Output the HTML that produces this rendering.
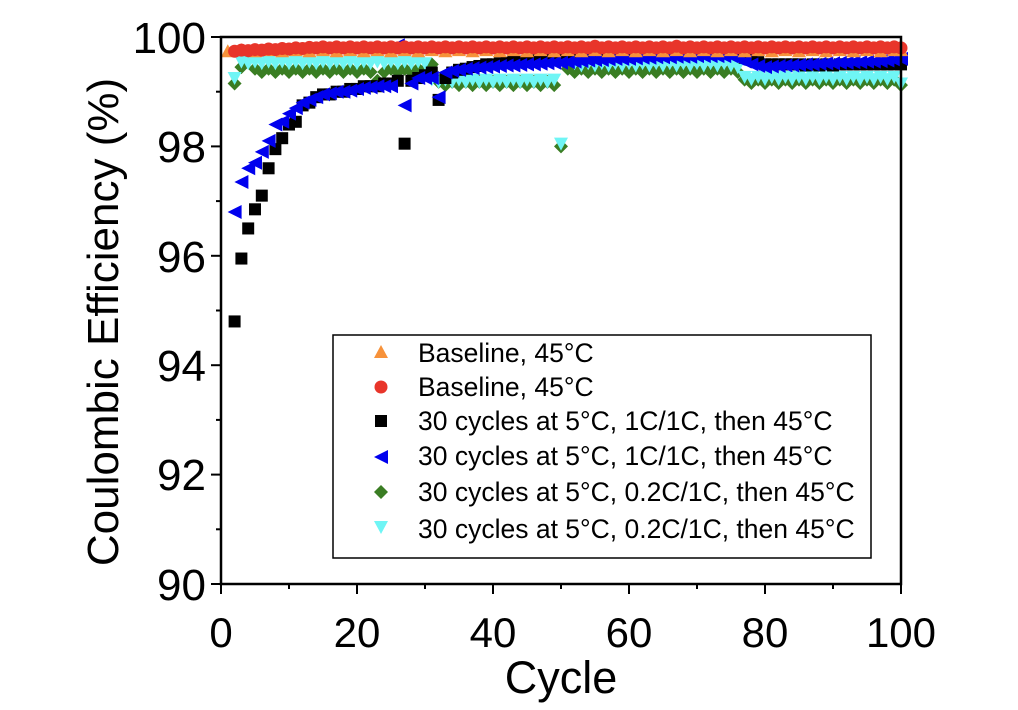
<!DOCTYPE html>
<html><head><meta charset="utf-8"><style>body{margin:0;background:#fff}svg{display:block}</style></head>
<body>
<svg width="1018" height="710" xmlns="http://www.w3.org/2000/svg" font-family="Liberation Sans, Arial, sans-serif">
<defs>
<marker id="mu" markerUnits="userSpaceOnUse" markerWidth="10" markerHeight="10" overflow="visible"><polygon points="0,0.128 -1.03,-0.11 1.03,-0.11" fill="#f7923a"/></marker>
<marker id="mc" markerUnits="userSpaceOnUse" markerWidth="10" markerHeight="10" overflow="visible"><ellipse cx="0" cy="0" rx="0.956" ry="0.119" fill="#e8352a"/></marker>
<marker id="ms" markerUnits="userSpaceOnUse" markerWidth="10" markerHeight="10" overflow="visible"><rect x="-0.88" y="-0.11" width="1.76" height="0.22" fill="#000"/></marker>
<marker id="ml" markerUnits="userSpaceOnUse" markerWidth="10" markerHeight="10" overflow="visible"><polygon points="-1.03,0 1.03,0.128 1.03,-0.128" fill="#0000ee"/></marker>
<marker id="md" markerUnits="userSpaceOnUse" markerWidth="10" markerHeight="10" overflow="visible"><polygon points="0,0.128 1.03,0 0,-0.128 -1.03,0" fill="#3a7d23"/></marker>
<marker id="mv" markerUnits="userSpaceOnUse" markerWidth="10" markerHeight="10" overflow="visible"><polygon points="0,-0.128 -1.03,0.11 1.03,0.11" fill="#6ff5f5"/></marker>
</defs>
<rect width="1018" height="710" fill="#fff"/>
<g transform="translate(221,5507) scale(6.8,-54.7)" fill="none" stroke="none">
<polyline marker-start="url(#md)" marker-mid="url(#md)" marker-end="url(#md)" points="2,99.15 3,99.45 4,99.65 5,99.42 6,99.36 7,99.42 8,99.36 9,99.42 10,99.36 11,99.42 12,99.36 13,99.42 14,99.36 15,99.42 16,99.36 17,99.42 18,99.36 19,99.42 20,99.36 21,99.42 22,99.36 23,99.2 24,99.36 25,99.42 26,99.36 27,99.42 28,99.36 29,99.42 30,99.4 31,99.5 32,99.18 33,99.12 34,99.18 35,99.12 36,99.18 37,99.12 38,99.18 39,99.12 40,99.18 41,99.12 42,99.18 43,99.12 44,99.18 45,99.12 46,99.18 47,99.12 48,99.18 49,99.12 50,98.0 51,99.42 52,99.36 53,99.42 54,99.36 55,99.42 56,99.36 57,99.42 58,99.36 59,99.42 60,99.36 61,99.42 62,99.36 63,99.42 64,99.36 65,99.42 66,99.36 67,99.42 68,99.36 69,99.42 70,99.36 71,99.42 72,99.36 73,99.42 74,99.36 75,99.42 76,99.36 77,99.22 78,99.16 79,99.22 80,99.16 81,99.22 82,99.16 83,99.22 84,99.16 85,99.22 86,99.16 87,99.22 88,99.16 89,99.22 90,99.16 91,99.22 92,99.16 93,99.22 94,99.16 95,99.22 96,99.16 97,99.22 98,99.16 99,99.22 100,99.12"/>
<polyline marker-start="url(#mv)" marker-mid="url(#mv)" marker-end="url(#mv)" points="2,99.25 3,99.55 4,99.52 5,99.55 6,99.52 7,99.55 8,99.52 9,99.55 10,99.52 11,99.55 12,99.52 13,99.55 14,99.52 15,99.55 16,99.52 17,99.55 18,99.52 19,99.55 20,99.52 21,99.55 22,99.52 23,99.55 24,99.52 25,99.55 26,99.52 27,99.55 28,99.52 29,99.55 30,99.52 31,99.22 32,99.18 33,99.22 34,99.18 35,99.22 36,99.18 37,99.22 38,99.18 39,99.22 40,99.18 41,99.22 42,99.18 43,99.22 44,99.18 45,99.22 46,99.18 47,99.22 48,99.18 49,99.22 50,98.05 51,99.6 52,99.52 53,99.48 54,99.52 55,99.48 56,99.52 57,99.48 58,99.52 59,99.48 60,99.52 61,99.48 62,99.52 63,99.48 64,99.52 65,99.48 66,99.52 67,99.48 68,99.52 69,99.48 70,99.52 71,99.48 72,99.52 73,99.48 74,99.52 75,99.48 76,99.45 77,99.27 78,99.23 79,99.27 80,99.23 81,99.27 82,99.23 83,99.27 84,99.23 85,99.27 86,99.23 87,99.27 88,99.23 89,99.27 90,99.23 91,99.27 92,99.23 93,99.27 94,99.23 95,99.27 96,99.23 97,99.27 98,99.23 99,99.27 100,99.15"/>
<polyline marker-start="url(#ms)" marker-mid="url(#ms)" marker-end="url(#ms)" points="2,94.8 3,95.95 4,96.5 5,96.85 6,97.1 7,97.6 8,97.95 9,98.15 10,98.4 11,98.45 12,98.75 13,98.8 14,98.9 15,98.95 16,98.95 17,99.0 18,99.0 19,99.05 20,99.05 21,99.1 22,99.1 23,99.1 24,99.15 25,99.15 26,99.2 27,98.05 28,99.2 29,99.25 30,99.3 31,99.35 32,98.85 33,99.25 34,99.35 35,99.4 36,99.42 37,99.45 38,99.47 39,99.5 40,99.5 41,99.52 42,99.53 43,99.55 44,99.55 45,99.56 46,99.57 47,99.58 48,99.58 49,99.6 50,99.6 51,99.62 52,99.63 53,99.64 54,99.65 55,99.66 56,99.67 57,99.68 58,99.69 59,99.7 60,99.7 61,99.7 62,99.71 63,99.71 64,99.71 65,99.72 66,99.72 67,99.72 68,99.72 69,99.72 70,99.72 71,99.72 72,99.72 73,99.72 74,99.72 75,99.72 76,99.7 77,99.62 78,99.58 79,99.54 80,99.5 81,99.5 82,99.5 83,99.5 84,99.5 85,99.5 86,99.48 87,99.5 88,99.48 89,99.5 90,99.48 91,99.5 92,99.5 93,99.5 94,99.5 95,99.5 96,99.5 97,99.5 98,99.5 99,99.5 100,99.5"/>
<polyline marker-start="url(#ml)" marker-mid="url(#ml)" marker-end="url(#ml)" points="2,96.8 3,97.35 4,97.6 5,97.7 6,97.9 7,98.1 8,98.4 9,98.45 10,98.6 11,98.7 12,98.8 13,98.85 14,98.9 15,98.95 16,98.97 17,99.0 18,99.0 19,99.02 20,99.05 21,99.07 22,99.08 23,99.1 24,99.1 25,99.1 26,99.85 27,98.75 28,99.15 29,99.25 30,99.25 31,99.25 32,98.9 33,99.35 34,99.38 35,99.4 36,99.42 37,99.43 38,99.44 39,99.45 40,99.46 41,99.47 42,99.48 43,99.48 44,99.49 45,99.5 46,99.5 47,99.51 48,99.52 49,99.53 50,99.53 51,99.54 52,99.55 53,99.56 54,99.57 55,99.58 56,99.58 57,99.59 58,99.6 59,99.6 60,99.6 61,99.61 62,99.62 63,99.62 64,99.63 65,99.63 66,99.63 67,99.64 68,99.64 69,99.64 70,99.65 71,99.65 72,99.65 73,99.65 74,99.65 75,99.65 76,99.6 77,99.55 78,99.5 79,99.47 80,99.45 81,99.46 82,99.47 83,99.48 84,99.48 85,99.49 86,99.5 87,99.5 88,99.51 89,99.52 90,99.52 91,99.53 92,99.53 93,99.54 94,99.54 95,99.55 96,99.55 97,99.56 98,99.57 99,99.58 100,99.6"/>
<polyline marker-start="url(#mu)" marker-mid="url(#mu)" marker-end="url(#mu)" points="1,99.74 3,99.76 5,99.74 7,99.76 9,99.74 11,99.76 13,99.74 15,99.76 17,99.74 19,99.76 21,99.74 23,99.76 25,99.74 27,99.76 29,99.74 31,99.76 33,99.74 35,99.76 37,99.74 39,99.76 41,99.74 43,99.76 45,99.74 47,99.76 49,99.74 51,99.76 53,99.74 55,99.76 57,99.74 59,99.76 61,99.74 63,99.76 65,99.74 67,99.76 69,99.74 71,99.76 73,99.74 75,99.76 77,99.74 79,99.76 81,99.74 83,99.76 85,99.74 87,99.76 89,99.74 91,99.76 93,99.74 95,99.76 97,99.74 99,99.76 100,99.76"/>
<polyline marker-start="url(#mc)" marker-mid="url(#mc)" marker-end="url(#mc)" points="2,99.74 3,99.76 4,99.75 5,99.77 6,99.76 7,99.78 8,99.77 9,99.79 10,99.78 11,99.8 12,99.79 13,99.81 14,99.8 15,99.82 16,99.8 17,99.82 18,99.8 19,99.82 20,99.8 21,99.82 22,99.8 23,99.82 24,99.8 25,99.82 26,99.8 27,99.82 28,99.8 29,99.82 30,99.8 31,99.82 32,99.8 33,99.82 34,99.8 35,99.82 36,99.8 37,99.82 38,99.8 39,99.82 40,99.8 41,99.82 42,99.8 43,99.82 44,99.8 45,99.82 46,99.8 47,99.82 48,99.8 49,99.82 50,99.8 51,99.82 52,99.8 53,99.82 54,99.8 55,99.83 56,99.8 57,99.82 58,99.8 59,99.82 60,99.8 61,99.82 62,99.8 63,99.82 64,99.8 65,99.82 66,99.8 67,99.83 68,99.8 69,99.82 70,99.8 71,99.82 72,99.8 73,99.82 74,99.8 75,99.82 76,99.8 77,99.82 78,99.8 79,99.82 80,99.8 81,99.82 82,99.8 83,99.82 84,99.8 85,99.82 86,99.8 87,99.82 88,99.8 89,99.82 90,99.8 91,99.82 92,99.8 93,99.82 94,99.8 95,99.82 96,99.8 97,99.82 98,99.8 99,99.82 100,99.8"/>
</g>
<rect x="221" y="37" width="680" height="547" fill="none" stroke="#000" stroke-width="2.5"/>
<g stroke="#000" stroke-width="2">
<line x1="221" y1="584" x2="221" y2="594"/><line x1="289" y1="584" x2="289" y2="589"/><line x1="357" y1="584" x2="357" y2="594"/><line x1="425" y1="584" x2="425" y2="589"/><line x1="493" y1="584" x2="493" y2="594"/><line x1="561" y1="584" x2="561" y2="589"/><line x1="629" y1="584" x2="629" y2="594"/><line x1="697" y1="584" x2="697" y2="589"/><line x1="765" y1="584" x2="765" y2="594"/><line x1="833" y1="584" x2="833" y2="589"/><line x1="901" y1="584" x2="901" y2="594"/>
<line x1="211" y1="37" x2="221" y2="37"/><line x1="216" y1="91.7" x2="221" y2="91.7"/><line x1="211" y1="146.4" x2="221" y2="146.4"/><line x1="216" y1="201.1" x2="221" y2="201.1"/><line x1="211" y1="255.8" x2="221" y2="255.8"/><line x1="216" y1="310.5" x2="221" y2="310.5"/><line x1="211" y1="365.2" x2="221" y2="365.2"/><line x1="216" y1="419.9" x2="221" y2="419.9"/><line x1="211" y1="474.6" x2="221" y2="474.6"/><line x1="216" y1="529.3" x2="221" y2="529.3"/><line x1="211" y1="584" x2="221" y2="584"/>
</g>
<g font-size="44" text-anchor="end" fill="#000">
<text x="206" y="53">100</text><text x="206" y="162">98</text><text x="206" y="272">96</text><text x="206" y="381">94</text><text x="206" y="490">92</text><text x="206" y="600">90</text>
</g>
<g font-size="42" text-anchor="middle" fill="#000">
<text x="221" y="647">0</text><text x="357" y="647">20</text><text x="493" y="647">40</text><text x="629" y="647">60</text><text x="765" y="647">80</text><text x="901" y="647">100</text>
</g>
<text x="561" y="693" font-size="45" text-anchor="middle">Cycle</text>
<text transform="translate(118,322) rotate(-90)" font-size="44" text-anchor="middle">Coulombic Efficiency (%)</text>
<rect x="333" y="335" width="538" height="223" fill="#fff" stroke="#000" stroke-width="1.5"/>
<g font-size="26.5" fill="#000">
<polygon points="381,345 374,358 388,358" fill="#f7923a"/><text x="418" y="362">Baseline, 45°C</text>
<circle cx="381" cy="387" r="6.5" fill="#e8352a"/><text x="418" y="396">Baseline, 45°C</text>
<rect x="375" y="415" width="12" height="12" fill="#000"/><text x="418" y="430">30 cycles at 5°C, 1C/1C, then 45°C</text>
<polygon points="374,457 388,450 388,464" fill="#0000ee"/><text x="418" y="465">30 cycles at 5°C, 1C/1C, then 45°C</text>
<polygon points="381,485 388,492 381,499 374,492" fill="#3a7d23"/><text x="418" y="501">30 cycles at 5°C, 0.2C/1C, then 45°C</text>
<polygon points="374,521 388,521 381,534" fill="#6ff5f5"/><text x="418" y="538">30 cycles at 5°C, 0.2C/1C, then 45°C</text>
</g>
</svg>
</body></html>
